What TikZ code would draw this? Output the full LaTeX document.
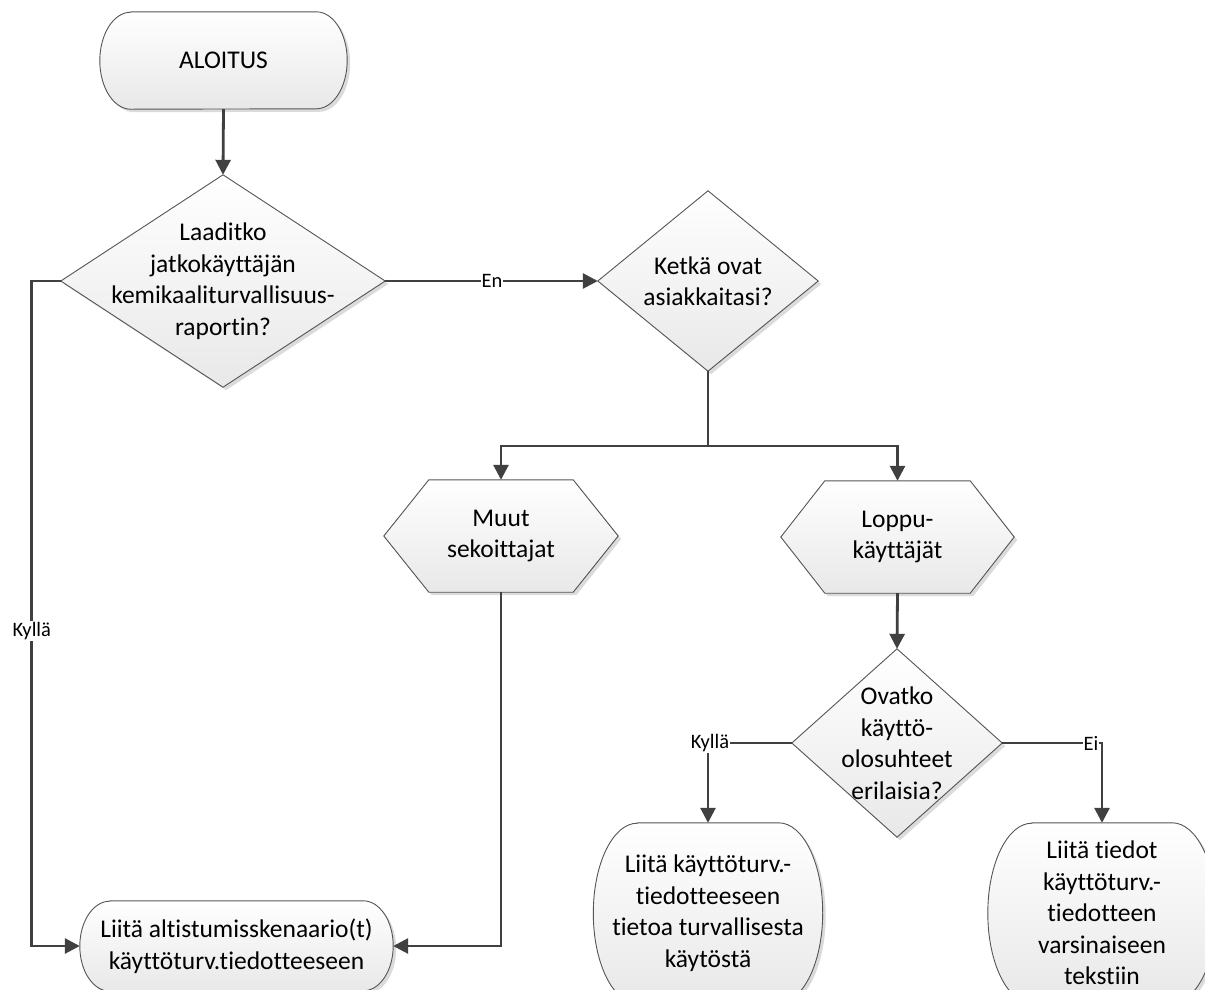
\documentclass[tikz,border=0pt]{standalone}
\usepackage{fontspec}
\setmainfont{Carlito}[Ligatures=NoCommon]
\usetikzlibrary{arrows.meta,calc,backgrounds,shadows}
\definecolor{ln}{HTML}{404040}
\definecolor{ol}{HTML}{555555}
\newcommand\termshape[3]{%
  \path[shp] ($(#1.north west)+(#2pt,0)$) -- ($(#1.north east)+(-#2pt,0)$)
    arc[start angle=90,end angle=-90,x radius=#2pt,y radius=#3pt]
    -- ($(#1.south west)+(#2pt,0)$)
    arc[start angle=270,end angle=90,x radius=#2pt,y radius=#3pt] -- cycle;}
\newcommand\hexshape[2]{%
  \path[shp] (#1.west) -- ($(#1.north west)+(#2pt,0)$) -- ($(#1.north east)+(-#2pt,0)$)
    -- (#1.east) -- ($(#1.south east)+(-#2pt,0)$) -- ($(#1.south west)+(#2pt,0)$) -- cycle;}
\newcommand\diashape[1]{%
  \path[shp] (#1.north) -- (#1.east) -- (#1.south) -- (#1.west) -- cycle;}
\begin{document}
\begin{tikzpicture}[x=1pt,y=1pt,
  box/.style={draw=none, inner sep=0pt, align=center, text=black,
    font=\fontsize{25.5}{31.5}\selectfont},
  shp/.style={draw=ol, line width=0.9pt, top color=white, bottom color=black!9,
    drop shadow={shadow xshift=3pt, shadow yshift=-3pt, fill=black!14, opacity=1}},
  conn/.style={draw=ln, line width=2.8pt, -{Triangle[length=15pt,width=15pt]}},
  plain/.style={draw=ln, line width=2.8pt},
  lab/.style={fill=white, inner sep=1pt, text=black, font=\fontsize{20.5}{23}\selectfont}]
\useasboundingbox (0,0) rectangle (1205,-989);

% nodes
\node[box, minimum width=247pt, minimum height=97pt] (start) at (223.5,-60.5) {ALOITUS};
\node[box, minimum width=324pt, minimum height=212pt] (d1) at (223,-281)
  {Laaditko\\jatkokäyttäjän\\kemikaaliturvallisuus-\\raportin?};
\node[box, minimum width=220pt, minimum height=180pt] (d2) at (708,-281)
  {Ketkä ovat\\asiakkaitasi?};
\node[box, minimum width=234pt, minimum height=112pt] (h1) at (501,-536)
  {Muut\\sekoittajat};
\node[box, minimum width=233pt, minimum height=112pt] (h2) at (897.5,-537)
  {Loppu-\\käyttäjät};
\node[box, minimum width=210pt, minimum height=188pt] (d3) at (897,-743)
  {Ovatko\\käyttö-\\olosuhteet\\erilaisia?};
\node[box, minimum width=313pt, minimum height=90pt] (t1) at (236.5,-946)
  {Liitä altistumisskenaario(t)\\käyttöturv.tiedotteeseen};
\node[box, minimum width=229pt, minimum height=180pt] (t2) at (708,-913)
  {Liitä käyttöturv.-\\tiedotteeseen\\tietoa turvallisesta\\käytöstä};
\node[box, minimum width=228pt, minimum height=180pt] (t3) at (1102,-913)
  {Liitä tiedot\\käyttöturv.-\\tiedotteen\\varsinaiseen\\tekstiin};

% shapes behind the texts
\begin{scope}[on background layer]
  \fill[white] (0,0) rectangle (1205,-989);
  \termshape{start}{31}{48.5}
  \diashape{d1}
  \diashape{d2}
  \hexshape{h1}{45}
  \hexshape{h2}{44}
  \diashape{d3}
  \termshape{t1}{30}{45}
  \termshape{t2}{44}{90}
  \termshape{t3}{44}{90}
\end{scope}

% connectors
\draw[conn] (start.south) -- (d1.north);
\draw[conn] (d1.east) -- node[lab, pos=0.502] {En} (d2.west);
\draw[conn] (d1.west) -- ++(-29pt,0) |- node[lab, pos=0.263] {Kyllä} (t1.west);
\coordinate (split) at (708,-446);
\draw[plain] (d2.south) -- (split);
\draw[conn] (split) -| (h1.north);
\draw[conn] (split) -| (h2.north);
\draw[conn] (h1.south) |- (t1.east);
\draw[conn] (h2.south) -- (d3.north);
\draw[conn] (d3.west) -| node[lab, pos=0.5, xshift=2pt] {Kyllä} (t2.north);
\draw[conn] (d3.east) -| node[lab, pos=0.5, xshift=-11pt] {Ei} (t3.north);
\end{tikzpicture}
\end{document}
